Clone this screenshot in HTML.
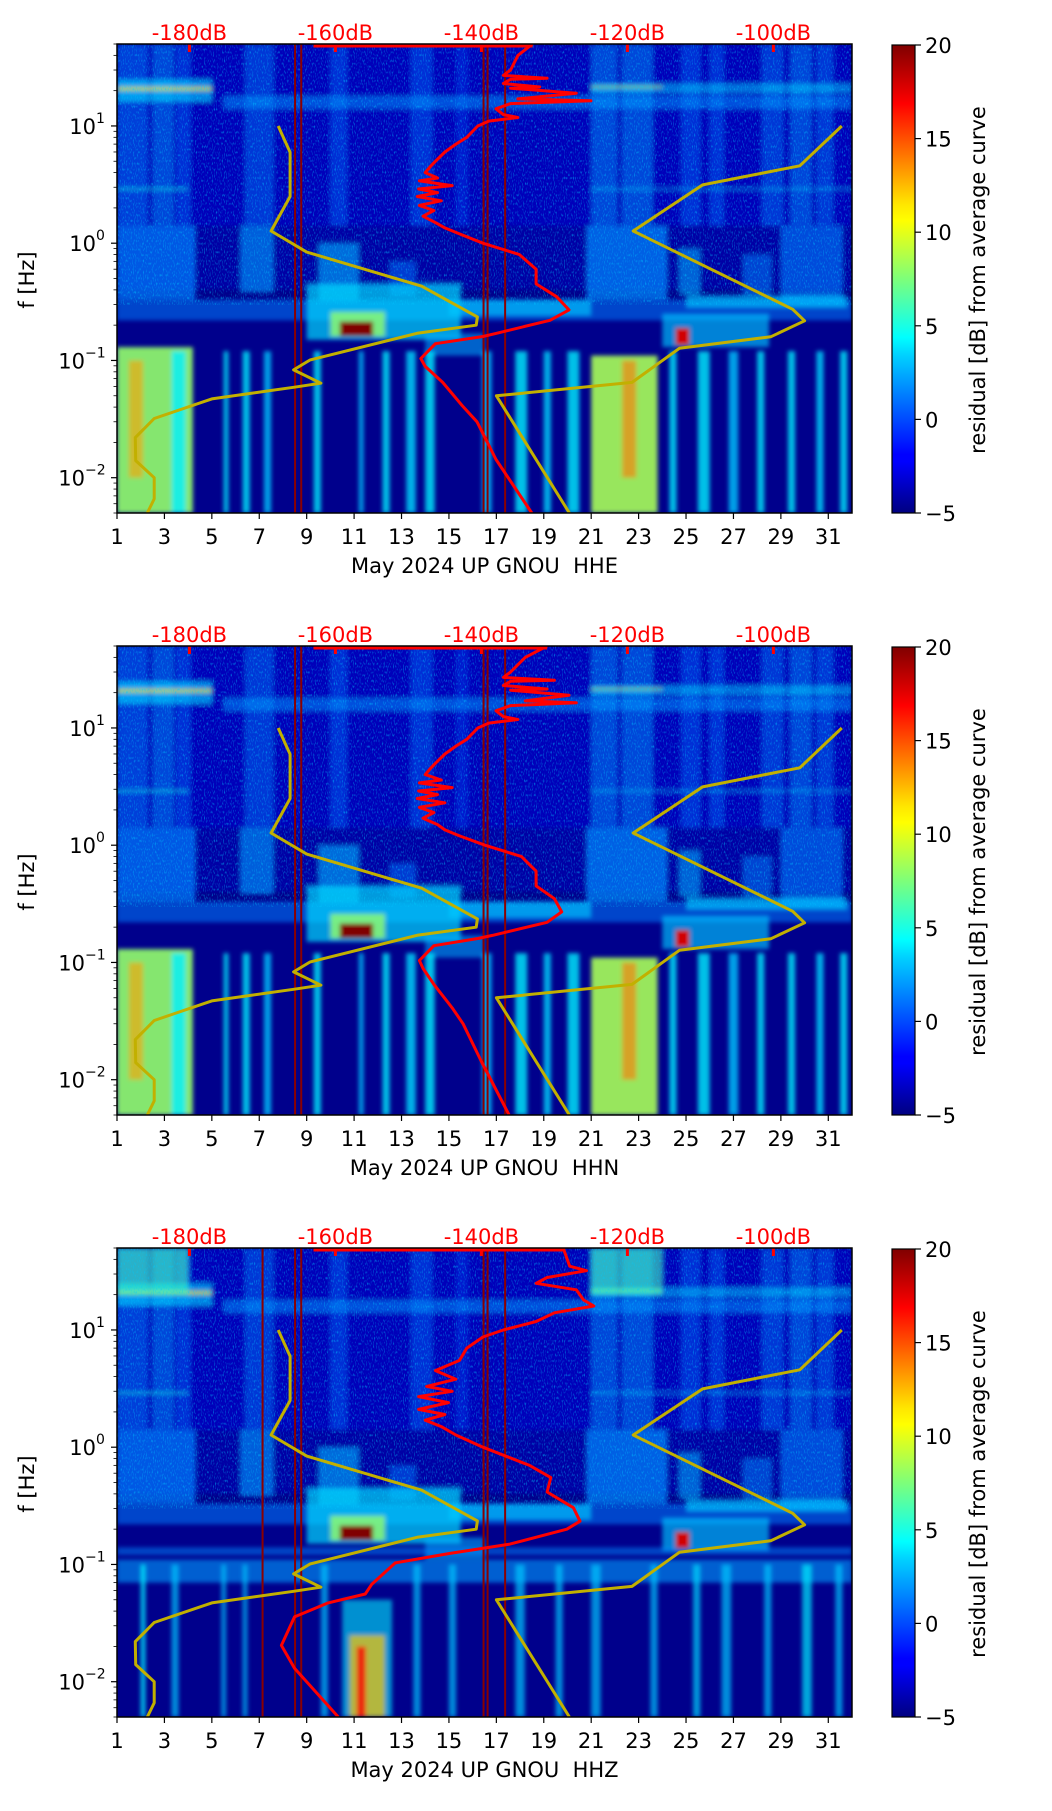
<!DOCTYPE html>
<html><head><meta charset="utf-8">
<style>
html,body{margin:0;padding:0;background:#fff;}
svg text{font-family:"DejaVu Sans","Liberation Sans",sans-serif;}
</style></head>
<body>
<svg id="fig" width="1052" height="1806" viewBox="0 0 1052 1806" xmlns="http://www.w3.org/2000/svg">
<defs>
<filter id="blur" x="-5%" y="-5%" width="110%" height="110%"><feGaussianBlur stdDeviation="2.2"/></filter>
<filter id="speck" x="0" y="0" width="100%" height="100%">
<feTurbulence type="fractalNoise" baseFrequency="0.9 0.35" numOctaves="1" seed="3" result="n"/>
<feColorMatrix in="n" type="matrix" values="0 0 0 0 0  0 0 0 0 0.6  0 0 0 0 1  0 0 0 3 -1.55"/>
</filter>
<linearGradient id="jetgrad" x1="0" y1="1" x2="0" y2="0">
<stop offset="0" stop-color="#000080"/><stop offset="0.11" stop-color="#0000ff"/>
<stop offset="0.125" stop-color="#0000ff"/><stop offset="0.34" stop-color="#00d4ff"/>
<stop offset="0.375" stop-color="#00ffff"/><stop offset="0.5" stop-color="#7dff7a"/>
<stop offset="0.625" stop-color="#ffff00"/><stop offset="0.66" stop-color="#ffe600"/>
<stop offset="0.875" stop-color="#ff0000"/><stop offset="1" stop-color="#800000"/>
</linearGradient>
</defs>
</svg>
<script>
// ---------- data ----------
const dayTicks = [1,3,5,7,9,11,13,15,17,19,21,23,25,27,29,31];
const dbTicks = [-180,-160,-140,-120,-100];
const cbTicks = [-5,0,5,10,15,20];
const channels = ["HHE","HHN","HHZ"];

const yelLeftDay = [7.8,8.3,8.3,7.5,9.0,13.85,16.2,16.15,13.7,9.15,8.45,9.6,8.45,5.0,2.57,1.77,1.79,2.57,2.57,2.28];
const yelLeftF   = [10,5.96,2.5,1.27,0.84,0.43,0.235,0.2,0.171,0.101,0.083,0.064,0.059,0.047,0.032,0.022,0.014,0.01,0.0066,0.005];
const yelRightDay = [31.57,29.8,25.7,22.77,29.5,30.0,28.57,24.72,22.72,17.0,20.08];
const yelRightF   = [10,4.57,3.14,1.27,0.273,0.218,0.159,0.127,0.065,0.050,0.005];

const red1F  = [50,40,30,27,25.5,25,23,21.5,21,19,17,16.4,15.5,14,12.5,11.8,11,10,8,7,6,5,4.5,4,3.6,3.4,3.1,2.9,2.7,2.5,2.3,2.1,1.9,1.7,1.5,1.35,1.2,1.0,0.8,0.6,0.45,0.35,0.27,0.22,0.17,0.16,0.139,0.104,0.089,0.065,0.041,0.03,0.0143,0.005];
const red1Db = [-133,-135,-136,-137,-131,-136,-137,-132,-136,-127,-135,-125,-136,-138,-137,-135,-139,-140.5,-142,-143.5,-145,-146.3,-147,-147.7,-146,-148.5,-144,-148.6,-146,-148.8,-145.5,-148.5,-146.5,-148,-146.3,-145,-143,-139.8,-134.8,-132.5,-132.5,-129.7,-128,-130.6,-138,-139.8,-146.3,-148.3,-147.7,-145.3,-142.6,-140.6,-138,-133.1];
const red2F  = [50,40,30,27,25.5,25,23,21.5,21,19,17,16.4,15.5,14,12.5,11.8,11,10,8,7,6,5,4.5,4,3.6,3.4,3.1,2.9,2.7,2.5,2.3,2.1,1.9,1.7,1.5,1.35,1.2,1.0,0.8,0.6,0.45,0.35,0.27,0.22,0.17,0.16,0.139,0.104,0.089,0.065,0.041,0.03,0.0143,0.005];
const red2Db = [-131,-134,-136,-137,-130,-136,-137,-131,-136,-128,-134,-127,-136,-138,-137,-135,-139,-140.5,-142,-143.5,-145,-146.3,-147,-147.7,-145.5,-148.5,-144,-148.6,-146,-148.8,-145,-148.5,-146.5,-148,-146,-145,-143,-139.5,-134.5,-132.5,-132.5,-130,-129,-131,-138.5,-140.5,-146.5,-148.5,-148,-146.5,-144,-142.5,-140,-136.2];
const red3F  = [50,35,32,28,25,22,18,16,14,11.8,10,8.7,7,5.5,4.5,3.8,3.3,3,2.7,2.4,2.1,1.9,1.7,1.5,1.27,1.0,0.7,0.55,0.415,0.305,0.234,0.2,0.149,0.124,0.103,0.068,0.056,0.047,0.0357,0.0204,0.013,0.005];
const red3Db = [-128.8,-127.9,-125.6,-131,-132.5,-127,-126,-124.6,-130,-132.5,-137,-139.8,-142,-143,-146.3,-143.5,-147.5,-144,-148.6,-144.5,-148.6,-145,-147.7,-145.5,-143.5,-139.8,-133.4,-130.5,-131,-127.4,-126.5,-128.3,-136.1,-144.4,-151.8,-155,-155.9,-161,-165.6,-167.4,-165.6,-159.6];
const redTopDb0 = [-163,-163,-163];
const redTopDb1 = [-133,-131,-128.8];

const darkLines1 = [8.51,8.77,16.46,16.63,17.37];
const darkLines3 = [7.14,8.51,8.77,16.46,16.63,17.37];

// blobs: [day0, day1, f0, f1, level, opacity]
const blobsCommonUpper = [
 [1,32,1.4,50,-3.3,0.8],
 [1,2.3,1.4,50,1.5,0.45],[2.5,3.4,1.4,50,2,0.45],[3.5,4.1,1.4,50,1,0.4],
 [6.4,7.6,1.4,50,1.5,0.4],[10,10.7,1.4,50,1,0.4],[13.4,14.3,1.4,50,1,0.4],[15.3,15.8,1.4,50,0.5,0.3],
 [21,22.1,1.4,50,2,0.45],[22.3,23.6,1.4,50,2,0.45],[24.8,25.6,1.4,50,1,0.4],[26,26.6,1.4,50,1,0.4],
 [28.2,29.1,1.4,50,1.5,0.4],[29.4,30.3,1.4,50,1.8,0.45],[30.5,31.2,1.4,50,1.5,0.4],
 [1,5,16,25,3.5,0.6],[1,5,20,21.5,11,0.7],[5.5,32,14,18,2,0.5],[21,32,19,23,3.5,0.5],[21,24,21,22,10,0.5],
 [1,4,2.8,3.0,5,0.4],[21,32,2.8,3.0,4,0.3]
];
const blobsCommonMid = [
 [1,32,0.4,1.4,-3.5,0.5],
 [1,4.3,0.33,1.4,1.2,0.7],[6.2,7.6,0.38,1.4,2,0.6],[9.5,11.2,0.32,1.0,2.5,0.6],[12.5,13.6,0.35,0.7,1,0.5],
 [20.8,24.2,0.33,1.4,1.5,0.7],[24.7,25.6,0.36,0.9,2.5,0.55],[27.4,28.6,0.36,0.8,1.5,0.5],[29,31.6,0.3,1.4,1.2,0.6],
 [1,32,0.22,0.33,1.2,0.55],[9,15.5,0.15,0.45,3.5,0.7],[10,12.3,0.16,0.26,8,0.8],[24,28.5,0.13,0.25,3,0.65],
 [15,21,0.24,0.33,3,0.65],[25,31.8,0.28,0.36,3,0.65],[14,16.5,0.11,0.17,2.5,0.55],
 [10.4,11.8,0.16,0.215,20,1],[24.55,25.15,0.135,0.19,18,1]
];
const blobsLowEN = [
 [1,4.2,0.005,0.13,8,0.9],[1.5,2.1,0.01,0.1,13,0.6],[3.3,3.9,0.005,0.12,4,0.8],
 [21,23.8,0.005,0.11,8.5,0.9],[22.3,22.9,0.01,0.1,14,0.6],
 [5.5,5.7,0.005,0.12,4,0.8],[6.3,6.6,0.005,0.12,4,0.8],[7.2,7.5,0.005,0.12,3,0.8],[9.3,9.6,0.005,0.12,4,0.8],
 [11.2,11.4,0.005,0.12,3,0.8],[12.2,12.5,0.005,0.12,4,0.8],[13.2,13.6,0.005,0.12,3.5,0.8],[14,14.4,0.005,0.12,4,0.8],
 [16.4,16.8,0.005,0.12,3,0.8],[17.8,18.3,0.005,0.12,4,0.8],[19,19.3,0.005,0.12,3.5,0.8],[20,20.5,0.005,0.12,4,0.8],
 [24.3,24.6,0.005,0.12,4,0.8],[25.5,26,0.005,0.12,4,0.8],[26.8,27.2,0.005,0.12,3,0.8],[28,28.3,0.005,0.12,4,0.8],
 [29.3,29.6,0.005,0.12,4,0.8],[30.5,30.8,0.005,0.12,3.5,0.8],[31.5,31.8,0.005,0.12,4,0.8]
];
const blobsLowZ = [
 [1,32,0.07,0.11,2,0.6],[1,32,0.12,0.14,1.5,0.5],
 [2,2.2,0.005,0.1,4,0.8],[3.3,3.6,0.005,0.1,3,0.7],[5.4,5.6,0.005,0.1,3,0.7],[6.3,6.5,0.005,0.1,3,0.7],
 [9.6,9.9,0.005,0.1,3,0.7],[10.5,12.6,0.005,0.05,4,0.6],[10.8,12.3,0.005,0.025,12,0.7],[11.1,11.5,0.005,0.02,17,0.8],[13.5,13.8,0.005,0.1,3,0.7],
 [15,15.3,0.005,0.1,3,0.7],[17.8,18.2,0.005,0.1,3,0.7],[19.5,19.8,0.005,0.1,3,0.7],[21,21.4,0.005,0.1,3,0.7],
 [23.5,23.8,0.005,0.1,3,0.7],[25.3,25.6,0.005,0.1,3.5,0.7],[26.5,26.9,0.005,0.1,3,0.7],[28.3,28.6,0.005,0.1,3,0.7],
 [29.9,30.3,0.005,0.1,4,0.7],[31.3,31.6,0.005,0.1,3,0.7],
 [1,4,20,50,6,0.6],[21,24,20,50,6,0.6]
];

// ---------- layout ----------
const NS = "http://www.w3.org/2000/svg";
const svg = document.getElementById('fig');
const PX0 = 117, PX1 = 852, PH = 469;
const FS = 21;
const tops = [44, 646, 1248];
const DAY0 = 1, DAY1 = 32, LF0 = Math.log10(0.005), LF1 = Math.log10(50);
function xDay(d){ return PX0 + (d-DAY0)/(DAY1-DAY0)*(PX1-PX0); }
function xDb(db){ return 189.4 + (db+180)*7.3; }
function yF(top,f){ return top + (LF1-Math.log10(f))/(LF1-LF0)*PH; }
function jet(L){
  let v=(L+5)/25; v=Math.max(0,Math.min(1,v));
  const c=t=>Math.round(255*Math.max(0,Math.min(1,1.5-Math.abs(4*v-t))));
  return `rgb(${c(3)},${c(2)},${c(1)})`;
}
function el(tag, attrs, parent){
  const e=document.createElementNS(NS,tag);
  for(const k in attrs) e.setAttribute(k,attrs[k]);
  (parent||svg).appendChild(e); return e;
}

function drawPanel(i){
  const top = tops[i];
  const g = el('g',{});
  
  
  const cp = el('clipPath',{id:'clip'+i}, g);
  el('rect',{x:PX0,y:top,width:PX1-PX0,height:PH}, cp);
  const plot = el('g',{'clip-path':`url(#clip${i})`}, g);
  
  
  el('rect',{x:PX0,y:top,width:PX1-PX0,height:PH,fill:'#00008c'}, plot);
  const bl = el('g',{filter:'url(#blur)'}, plot);
  const blobs = blobsCommonUpper.concat(blobsCommonMid, i<2 ? blobsLowEN : blobsLowZ);
  blobs.forEach(b=>{
    const r = el('rect',{x:xDay(b[0]),y:yF(top,b[3]),width:xDay(b[1])-xDay(b[0]),height:yF(top,b[2])-yF(top,b[3]),fill:jet(b[4]),opacity:b[5]}, bl);
    
    
  });
  const sp = el('rect',{x:PX0,y:top,width:PX1-PX0,height:yF(top,0.3)-top,filter:'url(#speck)',opacity:0.6}, plot);
  
  
  (i===2?darkLines3:darkLines1).forEach(d=>{
    const l = el('line',{x1:xDay(d),x2:xDay(d),y1:top,y2:top+PH,stroke:'#8b0000','stroke-width':2}, plot);
    
    
  });
  [[yelLeftDay,yelLeftF],[yelRightDay,yelRightF]].forEach((c,k)=>{
    const pts=c[0].map((d,j)=>xDay(d).toFixed(1)+','+yF(top,c[1][j]).toFixed(1)).join(' ');
    const p = el('polyline',{points:pts,fill:'none',stroke:'#c2b000','stroke-width':3,'stroke-linejoin':'round'}, plot);
    
    
  });
  const rf=[red1F,red2F,red3F][i], rd=[red1Db,red2Db,red3Db][i];
  const top1 = el('line',{x1:xDb(redTopDb0[i]),x2:xDb(redTopDb1[i]),y1:top+2,y2:top+2,stroke:'#ff0000','stroke-width':3}, plot);
  
  
  const rp = el('polyline',{points:rf.map((f,j)=>xDb(rd[j]).toFixed(1)+','+yF(top,f).toFixed(1)).join(' '),fill:'none',stroke:'#ff0000','stroke-width':3,'stroke-linejoin':'round'}, plot);
  
  
  dbTicks.forEach(db=>{
    const t=el('line',{x1:xDb(db),x2:xDb(db),y1:top,y2:top+8,stroke:'#ff0000','stroke-width':3}, g);
    
    
    const tx=el('text',{x:xDb(db),y:top-4,'text-anchor':'middle','font-size':FS,fill:'#ff0000'}, g);
    tx.textContent=db+'dB';
    
    
  });
  const fr = el('rect',{x:PX0,y:top,width:PX1-PX0,height:PH,fill:'none',stroke:'#000','stroke-width':1.5}, g);
  
  
  dayTicks.forEach(d=>{
    const t=el('line',{x1:xDay(d),x2:xDay(d),y1:top+PH,y2:top+PH+6,stroke:'#000','stroke-width':1.2}, g);
    
    
    const tx=el('text',{x:xDay(d),y:top+PH+31,'text-anchor':'middle','font-size':FS,fill:'#000'}, g);
    tx.textContent=d;
    
    
  });
  const xl=el('text',{x:(PX0+PX1)/2,y:top+PH+60,'text-anchor':'middle','font-size':FS,fill:'#000','style':'white-space:pre'}, g);
  xl.textContent='May 2024 UP GNOU  '+channels[i];
  
  
  for(let e=-3;e<=1;e++){
    for(let m=1;m<=9;m++){
      const f=m*Math.pow(10,e); if(f<0.005||f>50) continue;
      const y=yF(top,f);
      const t=el('line',{x1:PX0,x2:PX0-(m===1?6:3.5),y1:y,y2:y,stroke:'#000','stroke-width':m===1?1.2:0.8}, g);
      
      
      if(m===1){
        const tx=el('text',{x:PX0-(e<0?32:21),y:y+8,'text-anchor':'end','font-size':FS,fill:'#000'}, g);
        tx.textContent='10';
        
        
        const sp2=el('text',{x:PX0-(e<0?32:21),y:y-3,'text-anchor':'start','font-size':14,fill:'#000'}, g);
        sp2.textContent=e<0?('\u2212'+(-e)):String(e);
        
        
      }
    }
  }
  const yl=el('text',{x:34,y:top+236,'text-anchor':'middle','font-size':FS,fill:'#000',transform:`rotate(-90 34 ${top+236})`}, g);
  yl.textContent='f [Hz]';
  
  
  const cbx=892, cbw=23, cbt=top+1, cbh=PH-1;
  const cb=el('rect',{x:cbx,y:cbt,width:cbw,height:cbh,fill:'url(#jetgrad)',stroke:'#000','stroke-width':1.2}, g);
  
  
  cbTicks.forEach(v=>{
    const y=cbt+cbh-(v+5)/25*cbh;
    const t=el('line',{x1:cbx+cbw,x2:cbx+cbw+6,y1:y,y2:y,stroke:'#000','stroke-width':1.2}, g);
    
    
    const tx=el('text',{x:cbx+cbw+10,y:y+8,'font-size':FS,fill:'#000'}, g);
    tx.textContent=v<0?('\u2212'+(-v)):String(v);
    
    
  });
  const cl=el('text',{x:985,y:top+236,'text-anchor':'middle','font-size':FS,fill:'#000',transform:`rotate(-90 985 ${top+236})`}, g);
  cl.textContent='residual [dB] from average curve';
  
  
}
[0,1,2].forEach(drawPanel);
</script>
</body></html>
